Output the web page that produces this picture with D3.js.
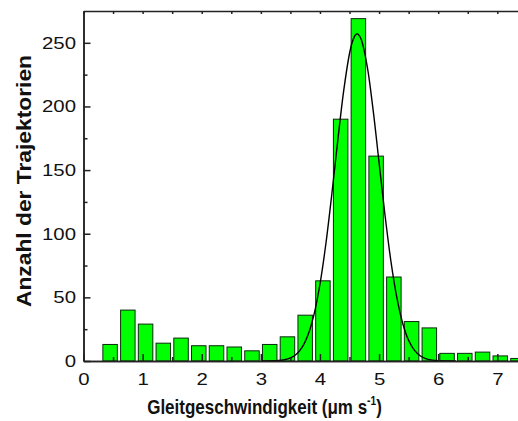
<!DOCTYPE html>
<html>
<head>
<meta charset="utf-8">
<script src="https://cdn.jsdelivr.net/npm/d3@7"></script>
<style>
  body { margin: 0; background: #fff; }
  svg { display: block; font-family: Arial, "Liberation Sans", sans-serif; }
</style>
</head>
<body>
<div id="chart"></div>
<script>
// histogram bins (bin centre in µm/s) and counts
const binCenters = [0.45, 0.75, 1.05, 1.35, 1.65, 1.95, 2.25, 2.55, 2.85, 3.15, 3.45, 3.75,
  4.05, 4.35, 4.65, 4.95, 5.25, 5.55, 5.85, 6.15, 6.45, 6.75, 7.05, 7.35];
const counts = [13, 40, 29, 14, 18, 12, 12, 11, 8, 13, 19, 36,
  63, 190, 269, 161, 66, 31, 26, 6, 6, 7, 4, 2];

// fitted curve
const fitX = [3.0, 3.3, 3.4, 3.5, 3.6, 3.7, 3.8, 3.9, 4.0, 4.1, 4.2, 4.3, 4.4, 4.5, 4.55, 4.6,
  4.63, 4.65, 4.7, 4.8, 4.9, 5.0, 5.1, 5.2, 5.3, 5.4, 5.5, 5.6, 5.7, 5.8, 5.9, 6.0, 6.3];
const fitY = [0, 0.4, 1.0, 2.4, 5.3, 10.9, 20.8, 36.7, 60.3, 92.1, 130.8, 172.7, 211.8, 241.6, 251.1, 256.2,
  257, 256.6, 252.4, 231.3, 196.9, 155.9, 114.7, 78.5, 49.9, 29.5, 16.2, 8.3, 3.9, 1.7, 0.7, 0.3, 0];

const xMajor = [0, 1, 2, 3, 4, 5, 6, 7];
const xMinor = [0.5, 1.5, 2.5, 3.5, 4.5, 5.5, 6.5];
const yMajor = [0, 50, 100, 150, 200, 250];
const yMinor = [25, 75, 125, 175, 225];

const width = 518, height = 421;
const marginLeft = 83.5, plotRight = 518, marginTop = 11, plotBottom = 361;
const binWidth = 0.245;
const tickStretch = 1.2; // tick numbers are drawn wide in the original

const x = d3.scaleLinear().domain([0, 7.35]).range([marginLeft, plotRight]);
const y = d3.scaleLinear().domain([0, 275]).range([plotBottom, marginTop]);

const svg = d3.select("#chart").append("svg")
  .attr("width", width)
  .attr("height", height);

// bars
svg.append("g")
  .selectAll("rect")
  .data(binCenters)
  .enter()
  .append("rect")
  .attr("x", (d) => x(d - binWidth / 2))
  .attr("y", (d, i) => y(counts[i]))
  .attr("width", (d) => x(d + binWidth / 2) - x(d - binWidth / 2))
  .attr("height", (d, i) => y(0) - y(counts[i]))
  .attr("fill", "#00ff00")
  .attr("stroke", "#0b2a0b")
  .attr("stroke-width", 1);

// fit curve
const line = d3.line()
  .x((d, i) => x(fitX[i]))
  .y((d) => y(d))
  .curve(d3.curveCatmullRom);

svg.append("path")
  .datum(fitY)
  .attr("d", line)
  .attr("fill", "none")
  .attr("stroke", "#000")
  .attr("stroke-width", 1.4);

const styleAxis = (g) => {
  g.selectAll("path, line").attr("stroke", "#222").attr("stroke-width", 1.5);
  g.selectAll("text").attr("font-size", 17).attr("fill", "#111")
    .attr("font-family", "Arial, 'Liberation Sans', sans-serif")
    .attr("transform", `scale(${tickStretch},1)`);
};

// bottom axis
svg.append("g")
  .attr("transform", `translate(0,${plotBottom})`)
  .call(d3.axisBottom(x).tickValues(xMinor).tickSizeInner(-4).tickSizeOuter(0).tickFormat(""))
  .call(styleAxis);
svg.append("g")
  .attr("transform", `translate(0,${plotBottom})`)
  .call(d3.axisBottom(x).tickValues(xMajor).tickSizeInner(-7).tickSizeOuter(0).tickPadding(12))
  .call(styleAxis);

// top axis
svg.append("g")
  .attr("transform", `translate(0,${marginTop})`)
  .call(d3.axisTop(x).tickValues(xMajor.concat(xMinor)).tickSizeInner(-3).tickSizeOuter(0).tickFormat(""))
  .call(styleAxis);

// left axis
svg.append("g")
  .attr("transform", `translate(${marginLeft},0)`)
  .call(d3.axisLeft(y).tickValues(yMinor).tickSizeInner(-4).tickSizeOuter(0).tickFormat(""))
  .call(styleAxis);
svg.append("g")
  .attr("transform", `translate(${marginLeft},0)`)
  .call(d3.axisLeft(y).tickValues(yMajor).tickSizeInner(-7).tickSizeOuter(0).tickPadding(7.5))
  .call(styleAxis)
  .call((g) => g.selectAll("text").attr("x", -7.5 / tickStretch));

// axis titles
const xTitle = svg.append("text")
  .attr("transform", "translate(264.5,414) scale(0.85,1)")
  .attr("text-anchor", "middle")
  .attr("font-size", 20)
  .attr("font-weight", "bold")
  .attr("fill", "#111");
xTitle.append("tspan").text("Gleitgeschwindigkeit (\u03bcm s");
xTitle.append("tspan").attr("font-size", 12).attr("dy", -9).text("-1");
xTitle.append("tspan").attr("dy", 9).text(")");

svg.append("text")
  .attr("transform", "translate(31,181) rotate(-90) scale(1.14,1)")
  .attr("text-anchor", "middle")
  .attr("font-size", 20)
  .attr("font-weight", "bold")
  .attr("fill", "#111")
  .text("Anzahl der Trajektorien");
</script>
</body>
</html>
